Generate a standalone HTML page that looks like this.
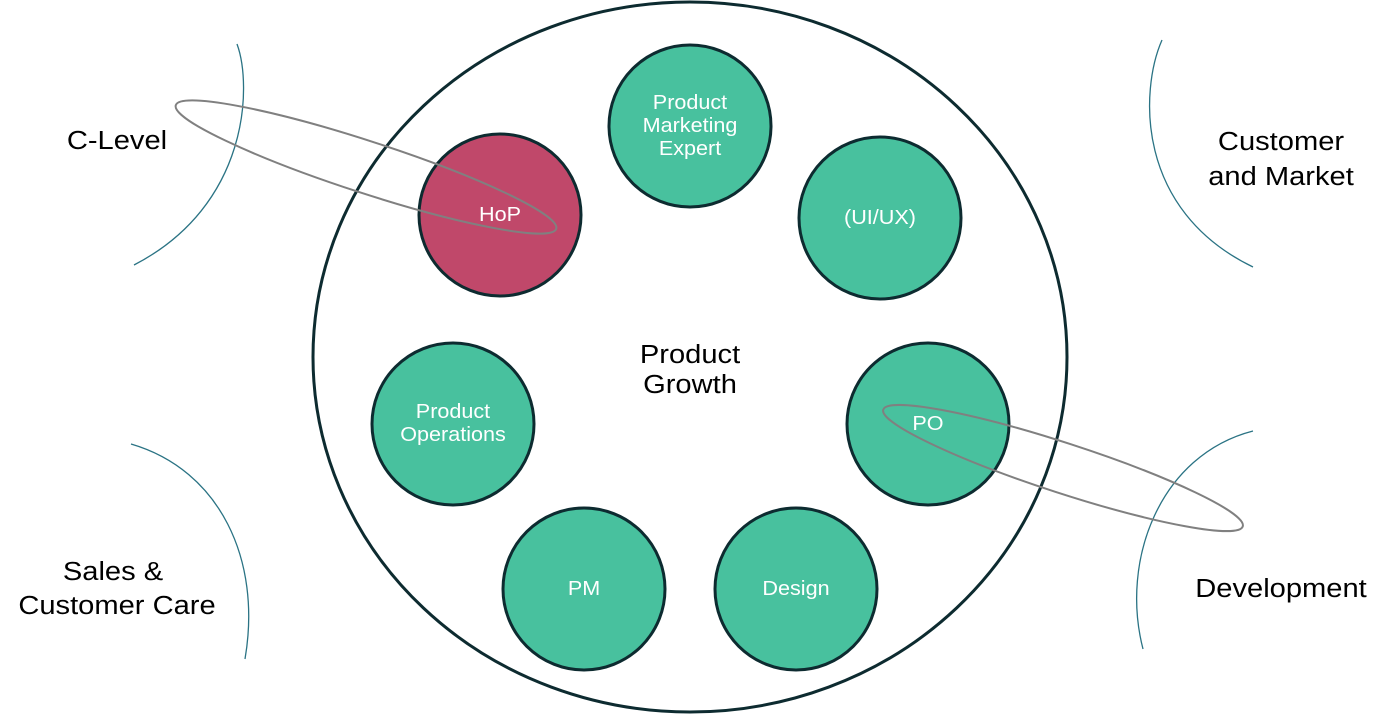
<!DOCTYPE html>
<html><head><meta charset="utf-8"><style>
html,body{margin:0;padding:0;background:#fff;}
svg{display:block;}
text{font-family:"Liberation Sans",Arial,sans-serif;}
</style></head><body>
<svg width="1386" height="716" viewBox="0 0 1386 716" xmlns="http://www.w3.org/2000/svg">
<rect width="1386" height="716" fill="#fff"/>
<g fill="none" stroke="#2a7384" stroke-width="1.3">
<path d="M237,44 C252,85 250,205 134,265"/>
<path d="M131,444 C220,470 262,560 245,659"/>
<path d="M1162,40 C1140,90 1135,210 1253,267"/>
<path d="M1253,431 C1160,455 1120,560 1143,649"/>
</g>
<ellipse cx="690" cy="357" rx="377" ry="355" fill="#fff" stroke="#0d2b30" stroke-width="3"/>
<g stroke="#0d2b30" stroke-width="3" fill="#48c19e">
<circle cx="690" cy="126" r="81"/>
<circle cx="500" cy="215" r="81" fill="#c0486a"/>
<circle cx="880" cy="218" r="81"/>
<circle cx="928" cy="424" r="81"/>
<circle cx="453" cy="424" r="81"/>
<circle cx="584" cy="589" r="81"/>
<circle cx="796" cy="589" r="81"/>
</g>
<g fill="#fff" font-size="20" text-anchor="middle">
<text transform="translate(690 109) scale(1.08 1)">Product</text>
<text transform="translate(690 132) scale(1.08 1)">Marketing</text>
<text transform="translate(690 155) scale(1.08 1)">Expert</text>
<text transform="translate(500 221) scale(1.08 1)">HoP</text>
<text transform="translate(880 224) scale(1.08 1)">(UI/UX)</text>
<text transform="translate(928 430) scale(1.08 1)">PO</text>
<text transform="translate(453 418) scale(1.08 1)">Product</text>
<text transform="translate(453 441) scale(1.08 1)">Operations</text>
<text transform="translate(584 595) scale(1.08 1)">PM</text>
<text transform="translate(796 595) scale(1.08 1)">Design</text>
</g>
<g fill="none" stroke="#808080" stroke-width="2">
<ellipse cx="366" cy="167" rx="200" ry="26" transform="rotate(18 366 167)"/>
<ellipse cx="1063" cy="468" rx="189" ry="25" transform="rotate(18 1063 468)"/>
</g>
<g fill="#000" font-size="26" text-anchor="middle">
<text transform="translate(690 363) scale(1.12 1)">Product</text>
<text transform="translate(690 393) scale(1.12 1)">Growth</text>
<text transform="translate(117 149) scale(1.12 1)">C-Level</text>
<text transform="translate(1281 150) scale(1.12 1)">Customer</text>
<text transform="translate(1281 185) scale(1.12 1)">and Market</text>
<text transform="translate(1281 597) scale(1.12 1)">Development</text>
<text transform="translate(113 580) scale(1.12 1)">Sales &amp;</text>
<text transform="translate(117 614) scale(1.12 1)">Customer Care</text>
</g>
</svg>
</body></html>
